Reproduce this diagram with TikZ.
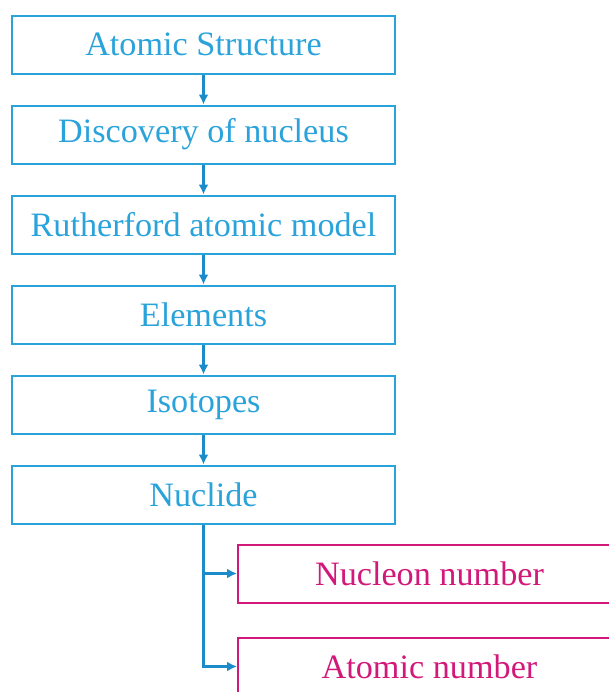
\documentclass[tikz,border=0pt]{standalone}
\usepackage{fontspec}
\setmainfont{Liberation Serif}
\usepackage{xcolor}
\usetikzlibrary{arrows.meta,positioning}
\definecolor{Cyan}{HTML}{2AA3DA}
\definecolor{Deep}{HTML}{1B8CC9}
\definecolor{Rose}{HTML}{D2197A}

\begin{document}
\begin{tikzpicture}[x=0.5pt,y=-0.5pt,
  topic/.style={draw=Cyan,line width=1pt,minimum width=191.5pt,minimum height=29pt,
    inner sep=0pt,text=Cyan,font=\fontsize{17.1}{20}\selectfont},
  sub/.style={topic,draw=Rose,text=Rose},
  flow/.style={-{Latex[length=5pt,width=5pt]},line width=1.2pt,Deep}]
  \useasboundingbox (0,0) rectangle (609,692);
  \clip (0,0) rectangle (609,692);
  \node[topic] (atomic) at (203.5,44.5) {Atomic Structure};
  \node[topic,below=15pt of atomic] (discovery) {Discovery of nucleus};
  \node[topic,below=15pt of discovery] (rutherford) {Rutherford atomic model};
  \node[topic,below=15pt of rutherford] (elements) {Elements};
  \node[topic,below=15pt of elements] (isotopes) {Isotopes};
  \node[topic,below=15pt of isotopes] (nuclide) {Nuclide};
  \node[sub,anchor=west] (nucleon) at (237,573.5) {Nucleon number};
  \node[sub,anchor=west] (atnum) at (237,666.5) {Atomic number};
  \draw[flow] (atomic) -- (discovery);
  \draw[flow] (discovery) -- (rutherford);
  \draw[flow] (rutherford) -- (elements);
  \draw[flow] (elements) -- (isotopes);
  \draw[flow] (isotopes) -- (nuclide);
  \draw[flow] (nuclide.south) |- (nucleon.west);
  \draw[flow] (nuclide.south) |- (atnum.west);
\end{tikzpicture}
\end{document}
